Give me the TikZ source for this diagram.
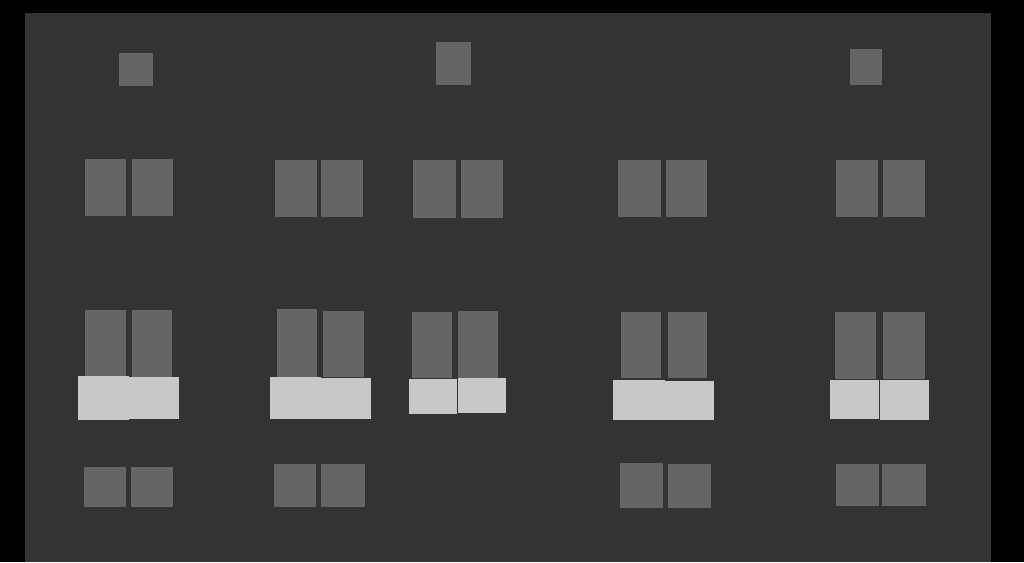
\documentclass[tikz,border=0pt]{standalone}
\usepackage{tikz}
\usepackage{xcolor}
\definecolor{wallgray}{HTML}{333333}
\definecolor{wingray}{HTML}{656565}
\definecolor{sillgray}{HTML}{C8C8C8}
\tikzset{
  win/.style={fill=wingray},
  sill/.style={fill=sillgray}
}
\begin{document}
\begin{tikzpicture}[x=1pt,y=-1pt]
\useasboundingbox (0,0) rectangle (1024,562);
% Background and wall
\fill[black] (0,0) rectangle (1024,562);
\fill[wallgray] (25,13) rectangle (991,562);
% Attic windows
\fill[win] (119,53) rectangle (153,86);
\fill[win] (436,42) rectangle (471,85);
\fill[win] (850,49) rectangle (882,85);
% Upper floor
\fill[win] (85,159) rectangle (126,216);
\fill[win] (132,159) rectangle (173,216);
\fill[win] (275,160) rectangle (317,217);
\fill[win] (321,160) rectangle (363,217);
\fill[win] (413,160) rectangle (456,218);
\fill[win] (461,160) rectangle (503,218);
\fill[win] (618,160) rectangle (661,217);
\fill[win] (666,160) rectangle (707,217);
\fill[win] (836,160) rectangle (878,217);
\fill[win] (883,160) rectangle (925,217);
% Middle floor
\fill[win] (85,310) rectangle (126,376);
\fill[win] (132,310) rectangle (172,377);
\fill[win] (277,309) rectangle (317,377);
\fill[win] (323,311) rectangle (364,377);
\fill[win] (412,312) rectangle (452,378);
\fill[win] (458,311) rectangle (498,378);
\fill[win] (621,312) rectangle (661,378);
\fill[win] (668,312) rectangle (707,378);
\fill[win] (835,312) rectangle (876,379);
\fill[win] (883,312) rectangle (925,379);
% Sills
\fill[sill] (129,377) rectangle (179,419);
\fill[sill] (78,376) rectangle (129,420);
\fill[sill] (321,378) rectangle (371,419);
\fill[sill] (270,377) rectangle (321,419);
\fill[sill] (409,379) rectangle (457,414);
\fill[sill] (458,378) rectangle (506,413);
\fill[sill] (665,381) rectangle (714,420);
\fill[sill] (613,380) rectangle (665,420);
\fill[sill] (830,380) rectangle (879,419);
\fill[sill] (880,380) rectangle (929,420);
% Ground floor
\fill[win] (84,467) rectangle (126,507);
\fill[win] (131,467) rectangle (173,507);
\fill[win] (274,464) rectangle (316,507);
\fill[win] (321,464) rectangle (365,507);
\fill[win] (620,463) rectangle (663,508);
\fill[win] (668,464) rectangle (711,508);
\fill[win] (836,464) rectangle (879,506);
\fill[win] (882,464) rectangle (926,506);
\end{tikzpicture}
\end{document}
